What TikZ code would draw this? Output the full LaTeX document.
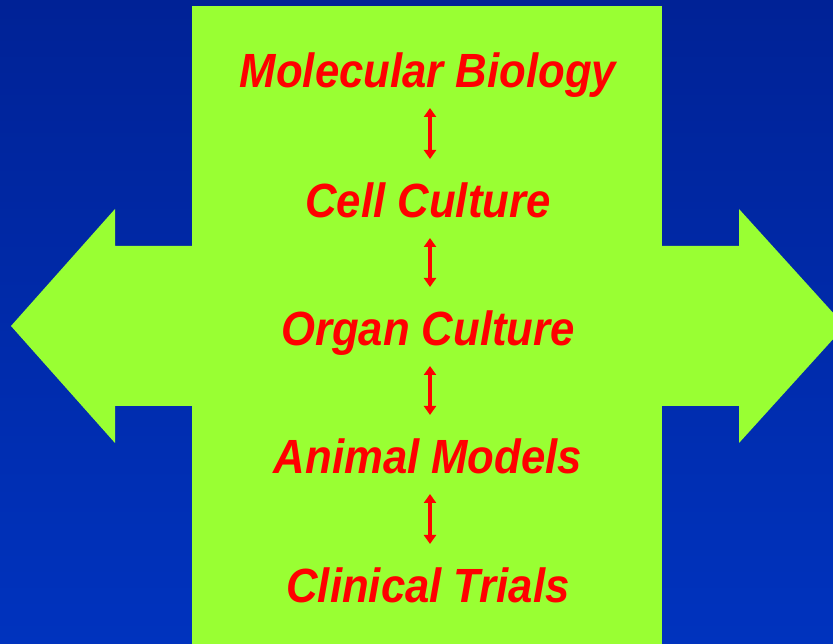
\documentclass[tikz,border=0pt]{standalone}
\usepackage{fontspec}
\setmainfont{Liberation Sans}
\usetikzlibrary{arrows.meta}
\definecolor{bgtop}{RGB}{0,34,150}
\definecolor{bgbottom}{RGB}{0,51,190}
\definecolor{slidegreen}{RGB}{153,255,51}
\tikzset{
    stage/.style={anchor=base, xscale=0.91, text=red, font=\fontsize{48}{58}\selectfont\bfseries\itshape},
    link/.style={{Triangle[width=12pt,length=9pt]}-{Triangle[width=12pt,length=9pt]}, line width=4pt, draw=red},
}

\begin{document}
\begin{tikzpicture}[x=1pt, y=1pt]
    % background
    \shade[top color=bgtop, bottom color=bgbottom] (0,0) rectangle (833,644);
    \useasboundingbox (0,0) rectangle (833,644);
    % green panel with side arrows
    \fill[slidegreen] (192,0) rectangle (662,638);
    \fill[slidegreen] (192,398) -- (115,398) -- (115,435) -- (11,318)
        -- (115,201) -- (115,238) -- (192,238) -- cycle;
    \fill[slidegreen] (662,398) -- (739,398) -- (739,435) -- (845,318)
        -- (739,201) -- (739,238) -- (662,238) -- cycle;
    % stages
    \node[stage] (mol)    at (428,556) {Molecular Biology};
    \node[stage] (cell)   at (428,426) {Cell Culture};
    \node[stage] (organ)  at (428,298) {Organ Culture};
    \node[stage] (animal) at (428,170) {Animal Models};
    \node[stage] (trials) at (428,41)  {Clinical Trials};
    % links
    \foreach \a/\b in {mol/cell, cell/organ, organ/animal, animal/trials}
        \draw[link] ([xshift=2pt, yshift=-20pt]\a.base) -- ([xshift=2pt, yshift=59pt]\b.base);
\end{tikzpicture}
\end{document}
